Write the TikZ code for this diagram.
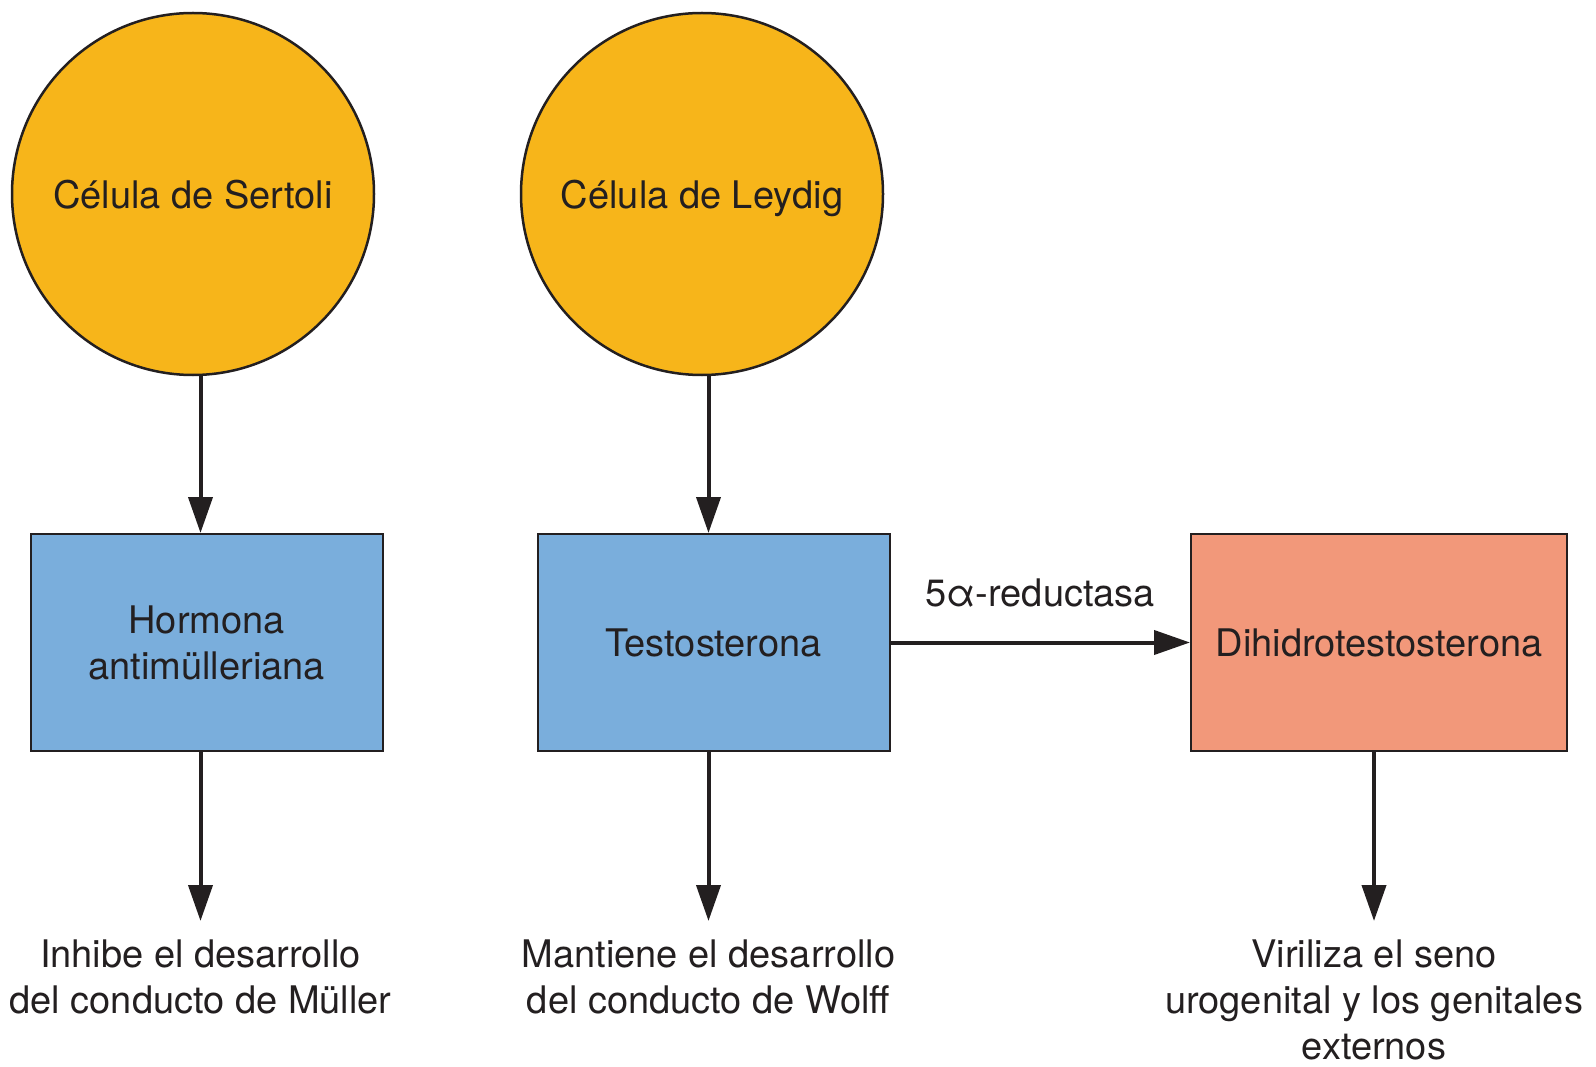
\documentclass[tikz,border=0pt]{standalone}
\usepackage{fontspec}
\setmainfont{TeX Gyre Heros}
\usetikzlibrary{arrows.meta}
\definecolor{celula}{RGB}{247,181,26}
\definecolor{hormona}{RGB}{122,174,220}
\definecolor{dht}{RGB}{242,152,122}
\definecolor{tinta}{RGB}{35,31,32}
\begin{document}
\begin{tikzpicture}[x=1pt,y=-1pt,line width=4pt,
  every node/.style={inner sep=2pt,text=tinta,font=\fontsize{38}{46}\selectfont},
  cell/.style={circle,draw=tinta,line width=2.5pt,fill=celula,minimum size=362pt,
    text height=38pt,text depth=8pt},
  caja/.style={draw=tinta,line width=2pt,minimum height=217pt},
  efecto/.style={align=center,anchor=north,inner ysep=17pt},
  >={Triangle[length=36pt,width=24pt]}]
\useasboundingbox (0,0) rectangle (1596,1067);
\node[cell] (sertoli) at (193,194) {Célula de Sertoli};
\node[cell] (leydig) at (702,194) {Célula de Leydig};
\node[caja,fill=hormona,minimum width=352pt,align=center] (amh) at (206.6,642.5) {Hormona\\antimülleriana};
\node[caja,fill=hormona,minimum width=352pt] (testo) at (713.5,642.5) {Testosterona};
\node[caja,fill=dht,minimum width=376pt] (dihidro) at (1379,642.5) {Dihidrotestosterona};
\node[efecto] (muller) at (200.5,921) {Inhibe el desarrollo\\del conducto de Müller};
\node[efecto] (wolff) at (708.5,921) {Mantiene el desarrollo\\del conducto de Wolff};
\node[efecto] (seno) at (1374,921) {Viriliza el seno\\urogenital y los genitales\\externos};
\draw[->,tinta] (sertoli.south -| muller) -- (amh.north -| muller);
\draw[->,tinta] (leydig.south -| wolff) -- (testo.north -| wolff);
\draw[->,tinta] (testo) -- node[midway,above,inner sep=33pt] (enzima) {5α-reductasa} (dihidro);
\draw[->,tinta] (amh.south -| muller) -- (muller.north);
\draw[->,tinta] (testo.south -| wolff) -- (wolff.north);
\draw[->,tinta] (dihidro.south -| seno) -- (seno.north);
\end{tikzpicture}
\end{document}
